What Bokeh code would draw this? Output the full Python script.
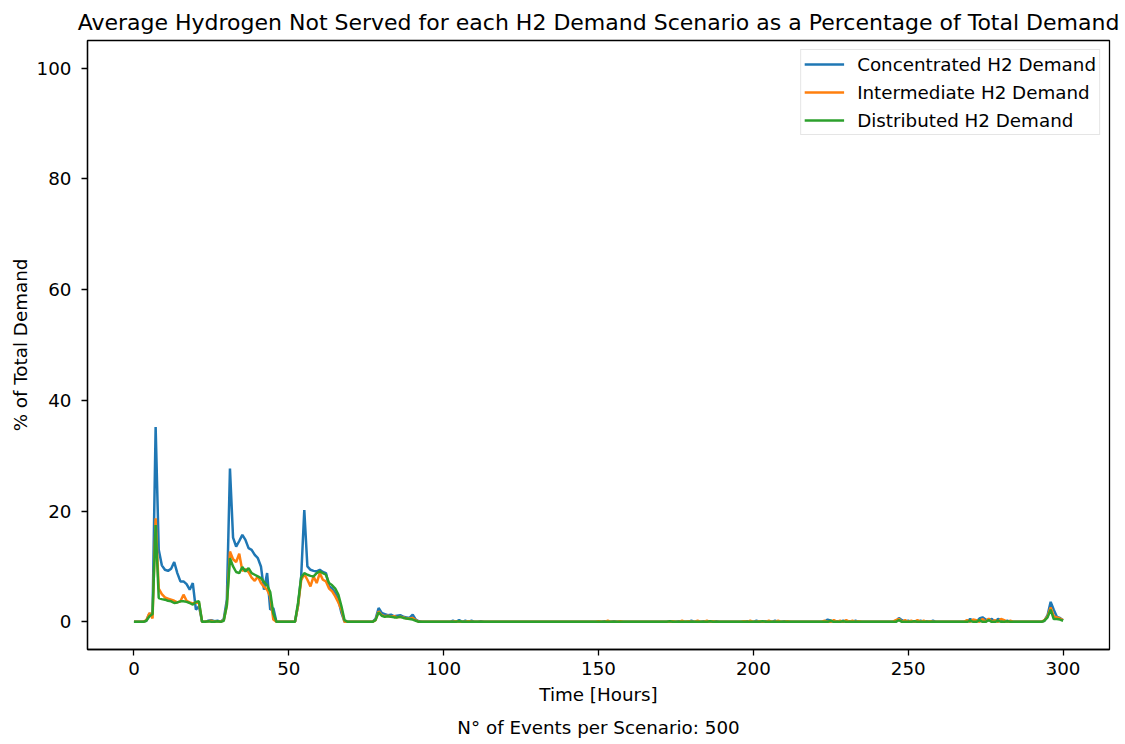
from bokeh.plotting import figure
from bokeh.models import Range1d, Title, Legend, LegendItem, FixedTicker
from bokeh.embed import file_html
from bokeh.resources import INLINE

TITLE = "Average Hydrogen Not Served for each H2 Demand Scenario as a Percentage of Total Demand"
FOOTNOTE = "N° of Events per Scenario: 500"
X_LABEL = "Time [Hours]"
Y_LABEL = "% of Total Demand"
SERIES_NAMES = ["Concentrated H2 Demand", "Intermediate H2 Demand", "Distributed H2 Demand"]
SERIES_COLORS = ["#1f77b4", "#ff7f0e", "#2ca02c"]
X_TICKS = [0, 50, 100, 150, 200, 250, 300]
Y_TICKS = [0, 20, 40, 60, 80, 100]

hours = list(range(301))

concentrated = [
    0, 0, 0, 0, 0.2, 1.5, 1.2, 35.2, 13.0, 10.2,
    9.4, 9.2, 9.6, 10.8, 8.8, 7.3, 7.3, 6.8, 5.8, 7.0,
    2.2, 2.8, 0, 0, 0.2, 0.3, 0.1, 0.2, 0, 0.5,
    4.0, 27.7, 15.2, 13.6, 14.6, 15.7, 14.8, 13.3, 13.0, 12.1,
    11.5, 10.0, 5.8, 8.8, 2.2, 2.5, 0, 0, 0, 0,
    0, 0, 0, 3.0, 8.2, 20.2, 10.0, 9.4, 9.2, 9.1,
    9.4, 9.0, 8.8, 6.4, 6.0, 5.2, 4.0, 1.6, 0, 0,
    0, 0, 0, 0, 0, 0, 0, 0, 0.5, 2.5,
    1.6, 1.4, 1.2, 1.3, 1.0, 1.1, 1.2, 0.9, 0.8, 0.7,
    1.3, 0.4, 0.1, 0, 0, 0, 0, 0, 0, 0,
    0, 0, 0, 0.2, 0, 0.3, 0, 0.2, 0, 0.2,
    0, 0, 0.1, 0, 0, 0, 0, 0, 0, 0,
    0, 0, 0, 0, 0, 0, 0, 0, 0, 0,
    0, 0, 0, 0, 0, 0, 0, 0, 0, 0,
    0, 0, 0, 0, 0, 0, 0, 0, 0, 0,
    0, 0, 0.1, 0, 0, 0.1, 0, 0, 0, 0,
    0, 0, 0, 0, 0, 0, 0, 0, 0, 0,
    0, 0, 0, 0, 0, 0, 0.1, 0, 0, 0,
    0.2, 0, 0, 0, 0.1, 0, 0, 0, 0.1, 0,
    0, 0, 0, 0, 0, 0, 0, 0, 0.1, 0,
    0, 0.2, 0, 0, 0.1, 0, 0, 0.2, 0, 0,
    0.1, 0, 0, 0, 0, 0, 0, 0, 0, 0,
    0, 0, 0, 0, 0.4, 0.2, 0, 0.1, 0, 0.2,
    0, 0.1, 0, 0.2, 0, 0, 0, 0, 0, 0,
    0, 0, 0, 0, 0, 0, 0, 0.7, 0.3, 0,
    0.2, 0, 0.1, 0, 0.2, 0, 0.1, 0, 0.2, 0,
    0, 0, 0, 0, 0, 0, 0, 0, 0, 0,
    0.5, 0.2, 0, 0.6, 0.8, 0.4, 0.3, 0.5, 0, 0.5,
    0.3, 0, 0.2, 0, 0, 0, 0, 0, 0, 0,
    0, 0, 0, 0, 0.2, 1.2, 3.6, 2.2, 0.9, 0.7,
    0.3,
]

intermediate = [
    0, 0, 0, 0, 0.3, 1.6, 0.6, 18.7, 6.0, 5.0,
    4.4, 4.2, 4.0, 3.8, 3.5, 3.7, 4.9, 3.8, 3.5, 3.3,
    3.5, 3.4, 0, 0, 0.1, 0.2, 0, 0.1, 0, 0.3,
    3.0, 12.7, 11.3, 10.8, 12.3, 9.2, 9.5, 9.0, 8.0, 7.4,
    8.2, 7.0, 6.3, 5.8, 4.6, 0.4, 0, 0, 0, 0,
    0, 0, 0, 3.0, 7.5, 8.6, 7.6, 6.4, 8.2, 7.0,
    8.8, 7.6, 7.3, 6.0, 5.5, 4.6, 3.5, 2.2, 0, 0,
    0, 0, 0, 0, 0, 0, 0, 0, 0.3, 1.9,
    1.2, 1.0, 1.1, 0.9, 1.0, 0.8, 0.9, 0.8, 0.6, 0.6,
    0.7, 0.3, 0, 0, 0, 0, 0, 0, 0, 0,
    0, 0, 0, 0, 0.1, 0, 0, 0, 0.1, 0,
    0, 0, 0, 0, 0, 0, 0, 0, 0, 0,
    0, 0, 0, 0, 0, 0, 0, 0, 0, 0,
    0, 0, 0, 0, 0, 0, 0, 0, 0, 0,
    0, 0, 0, 0, 0, 0, 0, 0, 0, 0,
    0.1, 0, 0, 0.2, 0, 0, 0, 0.1, 0, 0,
    0, 0, 0, 0, 0, 0, 0, 0, 0, 0,
    0, 0, 0, 0, 0.1, 0, 0, 0.2, 0, 0.1,
    0, 0, 0.2, 0, 0, 0.2, 0, 0.1, 0, 0,
    0, 0, 0, 0, 0, 0, 0, 0.1, 0, 0.2,
    0, 0, 0.1, 0, 0, 0.2, 0, 0, 0.2, 0,
    0, 0.1, 0, 0, 0, 0, 0, 0, 0, 0,
    0, 0, 0, 0.2, 0, 0, 0.3, 0, 0.2, 0,
    0.3, 0, 0.2, 0, 0.1, 0, 0, 0, 0, 0,
    0, 0, 0, 0, 0, 0, 0.3, 0.5, 0, 0.3,
    0, 0.2, 0, 0.3, 0, 0.2, 0, 0.1, 0, 0,
    0, 0, 0, 0, 0, 0, 0, 0, 0, 0.3,
    0, 0.4, 0.3, 0, 0.5, 0, 0.6, 0, 0.3, 0,
    0.5, 0.3, 0, 0.2, 0, 0, 0, 0, 0, 0,
    0, 0, 0, 0, 0.3, 1.0, 2.6, 1.0, 0.8, 0.6,
    0.3,
]

distributed = [
    0, 0, 0, 0, 0.2, 1.0, 1.4, 17.5, 4.3, 4.1,
    4.0, 3.8, 3.7, 3.4, 3.5, 3.7, 3.7, 3.6, 3.4, 3.1,
    3.6, 3.7, 0, 0, 0.1, 0, 0, 0.1, 0, 0.2,
    3.0, 11.5, 10.0, 9.0, 8.8, 9.9, 9.1, 9.7, 8.8, 8.5,
    8.2, 7.9, 7.2, 6.6, 5.4, 1.5, 0, 0, 0, 0,
    0, 0, 0, 3.5, 8.0, 8.8, 8.5, 8.3, 8.2, 8.8,
    9.1, 8.8, 8.5, 7.0, 6.6, 6.0, 4.9, 2.8, 0.3, 0,
    0, 0, 0, 0, 0, 0, 0, 0, 0.3, 1.7,
    1.1, 0.9, 1.0, 0.9, 0.8, 0.8, 0.9, 0.7, 0.6, 0.5,
    0.4, 0.2, 0, 0, 0, 0, 0, 0, 0, 0,
    0, 0, 0, 0, 0, 0.1, 0, 0, 0, 0,
    0, 0, 0, 0, 0, 0, 0, 0, 0, 0,
    0, 0, 0, 0, 0, 0, 0, 0, 0, 0,
    0, 0, 0, 0, 0, 0, 0, 0, 0, 0,
    0, 0, 0, 0, 0, 0, 0, 0, 0, 0,
    0, 0, 0, 0, 0, 0, 0, 0, 0, 0,
    0, 0, 0, 0, 0, 0, 0, 0, 0, 0,
    0, 0, 0, 0.1, 0, 0, 0, 0, 0, 0,
    0, 0, 0, 0, 0, 0, 0.1, 0, 0, 0,
    0, 0, 0, 0, 0, 0, 0, 0, 0, 0,
    0, 0, 0, 0.1, 0, 0, 0, 0, 0, 0,
    0, 0, 0, 0, 0, 0, 0, 0, 0, 0,
    0, 0, 0, 0, 0, 0.2, 0, 0, 0, 0.1,
    0, 0, 0, 0, 0, 0, 0, 0, 0, 0,
    0, 0, 0, 0, 0, 0, 0, 0.3, 0, 0,
    0, 0, 0.1, 0, 0, 0, 0, 0, 0, 0,
    0, 0, 0, 0, 0, 0, 0, 0, 0, 0,
    0.2, 0, 0, 0.3, 0, 0, 0.3, 0, 0, 0.2,
    0, 0, 0.1, 0, 0, 0, 0, 0, 0, 0,
    0, 0, 0, 0, 0.2, 0.8, 2.2, 0.5, 0.5, 0.4,
    0.2,
]

FONT = "DejaVu Sans"
BLACK = "#000000"
FS = "18.3px"

p = figure(width=1125, height=744, output_backend="svg", toolbar_location=None,
           x_range=Range1d(-15, 315), y_range=Range1d(-5, 105),
           min_border_left=87, min_border_right=16, min_border_top=40,
           min_border_bottom=94, background_fill_color="white",
           border_fill_color="white")

p.title.text = TITLE
p.title.align = "center"
p.title.text_font = FONT
p.title.text_font_size = "22px"
p.title.text_font_style = "normal"
p.title.text_color = BLACK
p.title.standoff = 12

p.add_layout(Title(text=FOOTNOTE, align="center", text_font=FONT,
                   text_font_size=FS, text_font_style="normal",
                   text_color=BLACK, standoff=14), "below")

p.xgrid.visible = False
p.ygrid.visible = False
p.outline_line_color = BLACK
p.outline_line_width = 1.3

for ax in (p.xaxis[0], p.yaxis[0]):
    ax.axis_line_color = BLACK
    ax.axis_line_width = 1.3
    ax.major_tick_line_color = BLACK
    ax.major_tick_line_width = 1.3
    ax.major_tick_out = 6
    ax.major_tick_in = 0
    ax.minor_tick_line_color = None
    ax.major_label_text_font = FONT
    ax.major_label_text_font_size = FS
    ax.major_label_text_color = BLACK
    ax.axis_label_text_font = FONT
    ax.axis_label_text_font_size = FS
    ax.axis_label_text_font_style = "normal"
    ax.axis_label_text_color = BLACK

p.xaxis.ticker = FixedTicker(ticks=X_TICKS)
p.yaxis.ticker = FixedTicker(ticks=Y_TICKS)
p.xaxis.axis_label = X_LABEL
p.yaxis.axis_label = Y_LABEL
p.xaxis.major_label_standoff = 6
p.xaxis.axis_label_standoff = 6
p.yaxis.major_label_standoff = 10
p.yaxis.axis_label_standoff = 3

items = []
for name, color, vals in zip(SERIES_NAMES, SERIES_COLORS,
                             [concentrated, intermediate, distributed]):
    r = p.line(hours, vals, line_color=color, line_width=2.5)
    items.append(LegendItem(label=name, renderers=[r]))

legend = Legend(items=items, location="top_right",
                label_text_font=FONT, label_text_font_size=FS,
                label_text_color=BLACK,
                glyph_width=40, glyph_height=22, label_height=22,
                label_standoff=13, spacing=6, padding=3, margin=9,
                border_line_color="#cccccc", border_line_width=1,
                background_fill_color="white", background_fill_alpha=0.8)
p.add_layout(legend)

open("out.html", "w").write(file_html(p, INLINE))
